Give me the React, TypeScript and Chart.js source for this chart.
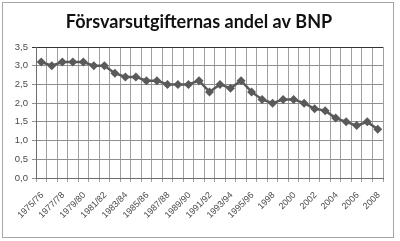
import React, { useEffect, useRef } from 'react';
import { Chart, registerables } from 'chart.js';

Chart.register(...registerables);

const categories = [
  '1975/76', '1976/77', '1977/78', '1978/79', '1979/80', '1980/81', '1981/82',
  '1982/83', '1983/84', '1984/85', '1985/86', '1986/87', '1987/88', '1988/89',
  '1989/90', '1990/91', '1991/92', '1992/93', '1993/94', '1994/95', '1995/96',
  '1997', '1998', '1999', '2000', '2001', '2002', '2003', '2004', '2005',
  '2006', '2007', '2008',
];

const shareOfGdp = [
  3.1, 3.0, 3.1, 3.1, 3.1, 3.0, 3.0,
  2.8, 2.7, 2.7, 2.6, 2.6, 2.5, 2.5,
  2.5, 2.6, 2.3, 2.5, 2.4, 2.6, 2.3,
  2.1, 2.0, 2.1, 2.1, 2.0, 1.85, 1.8, 1.6, 1.5,
  1.4, 1.5, 1.3,
];

const titleText = 'Försvarsutgifternas andel av BNP';

const yTickFont = { family: '"Liberation Sans", Arial, sans-serif', size: 9.5 };
const xTickFont = { family: '"Liberation Sans", Arial, sans-serif', size: 9 };
const tickColor = '#4a4a4a';

const frameAndTitle = {
  id: 'frameAndTitle',
  afterDraw(chart: any) {
    const ctx = chart.ctx as CanvasRenderingContext2D;
    ctx.save();
    ctx.strokeStyle = '#a6a6a6';
    ctx.lineWidth = 1;
    ctx.strokeRect(2.5, 2.5, 391, 235);
    ctx.fillStyle = '#111111';
    ctx.font = 'bold 18px Lato, "Open Sans", sans-serif';
    ctx.textAlign = 'center';
    ctx.textBaseline = 'alphabetic';
    ctx.fillText(titleText, 199, 28);
    ctx.restore();
  },
};

export default function App() {
  const ref = useRef<HTMLCanvasElement>(null);
  useEffect(() => {
    document.body.style.margin = '0';
    const chart = new Chart(ref.current!, {
      type: 'line',
      data: {
        labels: categories,
        datasets: [
          {
            data: shareOfGdp,
            borderColor: '#5a5a5a',
            backgroundColor: '#5a5a5a',
            borderWidth: 2.5,
            pointStyle: 'rectRot',
            pointRadius: 4.5,
            pointBorderWidth: 0,
            tension: 0,
          },
        ],
      },
      options: {
        animation: false,
        responsive: false,
        layout: { padding: { top: 47, right: 17, left: 0, bottom: 0 } },
        plugins: {
          legend: { display: false },
          title: { display: false },
          tooltip: { enabled: false },
        },
        scales: {
          x: {
            offset: true,
            grid: { offset: true, color: '#a0a0a0', tickLength: 4 },
            border: { color: '#6e6e6e' },
            ticks: {
              autoSkip: false,
              maxRotation: 45,
              minRotation: 45,
              font: xTickFont,
              color: tickColor,
              padding: 8,
              labelOffset: 1,
              callback: (_v: any, i: number) => (i % 2 === 0 ? categories[i] : ''),
            },
            afterFit: (s: any) => {
              s.height = 63;
            },
          },
          y: {
            min: 0,
            max: 3.5,
            ticks: {
              stepSize: 0.5,
              font: yTickFont,
              color: tickColor,
              padding: 4,
              callback: (v: any) => Number(v).toFixed(1).replace('.', ','),
            },
            grid: {
              color: (c: any) => (c.tick && c.tick.value === 3.5 ? '#333333' : '#8f8f8f'),
              tickLength: 4,
            },
            border: { color: '#6e6e6e' },
            afterFit: (s: any) => {
              s.width = 36;
            },
          },
        },
      },
      plugins: [frameAndTitle],
    } as any);
    return () => chart.destroy();
  }, []);
  return <canvas ref={ref} width={400} height={241} style={{ display: 'block' }} />;
}
